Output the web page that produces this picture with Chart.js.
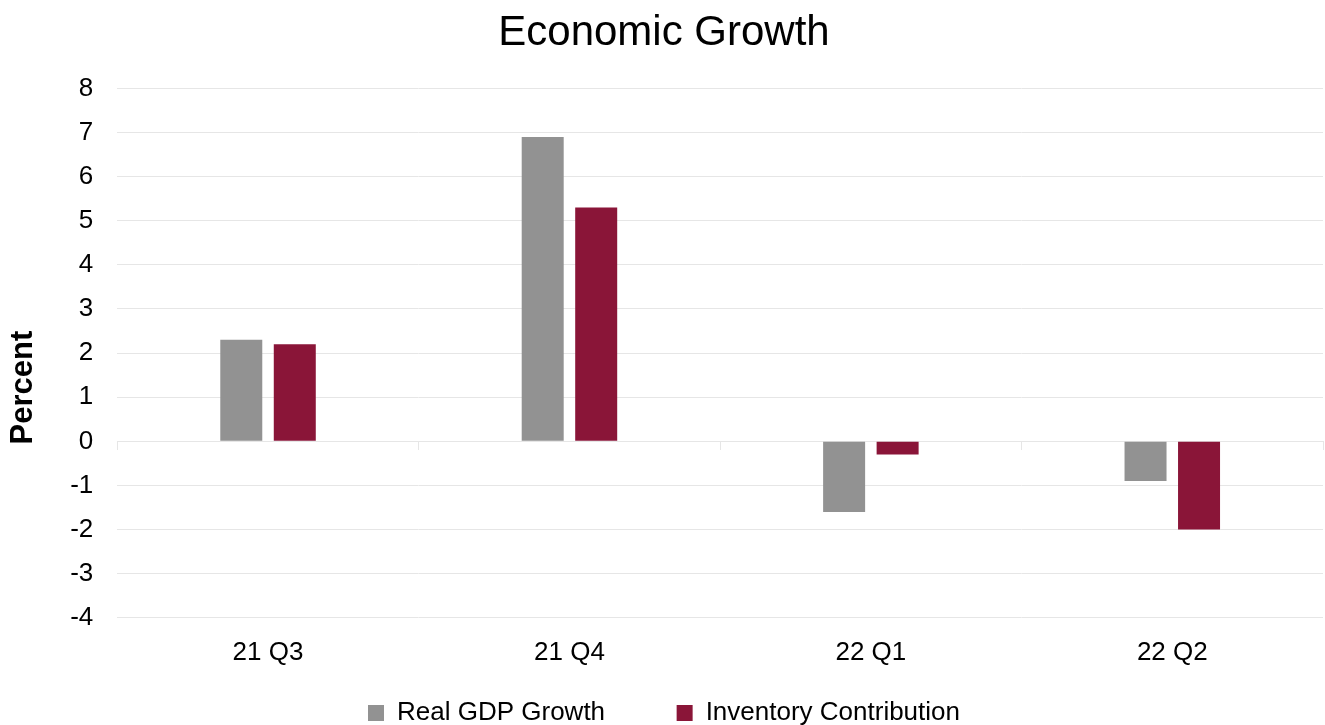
<!DOCTYPE html>
<html>
<head>
<meta charset="utf-8">
<script src="https://cdn.jsdelivr.net/npm/chart.js@4.4.1/dist/chart.umd.min.js"></script>
<style>
  html, body { margin: 0; padding: 0; background: #fff; }
  #wrap { width: 1325px; height: 725px; position: relative; }
</style>
</head>
<body>
<div id="wrap"><canvas id="growthChart"></canvas></div>
<script>
// quarterly categories and the two series (percent)
const quarters = ['21 Q3', '21 Q4', '22 Q1', '22 Q2'];
const realGdpGrowth = [2.3, 6.9, -1.6, -0.9];
const inventoryContribution = [2.2, 5.3, -0.3, -2.0];
const yTicks = [8, 7, 6, 5, 4, 3, 2, 1, 0, -1, -2, -3, -4];

const FONT = 'Liberation Sans, Arial, sans-serif';
const gridColor = '#e6e6e6';

const ctx = document.getElementById('growthChart').getContext('2d');

new Chart(ctx, {
  type: 'bar',
  data: {
    labels: quarters,
    datasets: [
      {
        label: 'Real GDP Growth',
        data: realGdpGrowth,
        backgroundColor: '#929292',
        categoryPercentage: 0.355,
        barPercentage: 0.785
      },
      {
        label: 'Inventory Contribution',
        data: inventoryContribution,
        backgroundColor: '#8a1538',
        categoryPercentage: 0.355,
        barPercentage: 0.785
      }
    ]
  },
  options: {
    responsive: true,
    maintainAspectRatio: false,
    animation: false,
    layout: { padding: { left: 5, right: 2, top: 0, bottom: -11 } },
    scales: {
      x: {
        grid: { display: false },
        border: { display: false },
        ticks: { color: '#000', font: { family: FONT, size: 26 }, padding: 11 }
      },
      // zero line with category separators
      x0: {
        type: 'category',
        labels: quarters,
        position: { y: 0 },
        offset: true,
        grid: { offset: true, drawOnChartArea: false, tickLength: 8, color: gridColor },
        border: { display: true, color: gridColor },
        ticks: { display: false }
      },
      y: {
        min: -4,
        max: 8,
        afterBuildTicks: (scale) => { scale.ticks = yTicks.map(v => ({ value: v })); },
        grid: { color: gridColor, drawTicks: false },
        border: { display: false },
        ticks: { color: '#000', font: { family: FONT, size: 26 }, padding: 24 },
        title: {
          display: true,
          // trailing spaces push the rotated label a little below the middle
          text: 'Percent        ',
          color: '#000',
          font: { family: FONT, size: 31, weight: 'bold' },
          padding: { top: 0, bottom: 4 }
        }
      }
    },
    plugins: {
      title: {
        display: true,
        text: 'Economic Growth',
        color: '#000',
        font: { family: FONT, size: 42, weight: 'normal' },
        padding: { top: 8, bottom: 30 }
      },
      legend: {
        position: 'bottom',
        labels: {
          color: '#000',
          font: { family: FONT, size: 26 },
          boxWidth: 16,
          boxHeight: 16,
          padding: 21,
          // widen the gap between the two entries
          generateLabels: (chart) => {
            const items = Chart.defaults.plugins.legend.labels.generateLabels(chart);
            items[0].text += '       ';
            return items;
          }
        }
      },
      tooltip: { enabled: false }
    }
  }
});
</script>
</body>
</html>
